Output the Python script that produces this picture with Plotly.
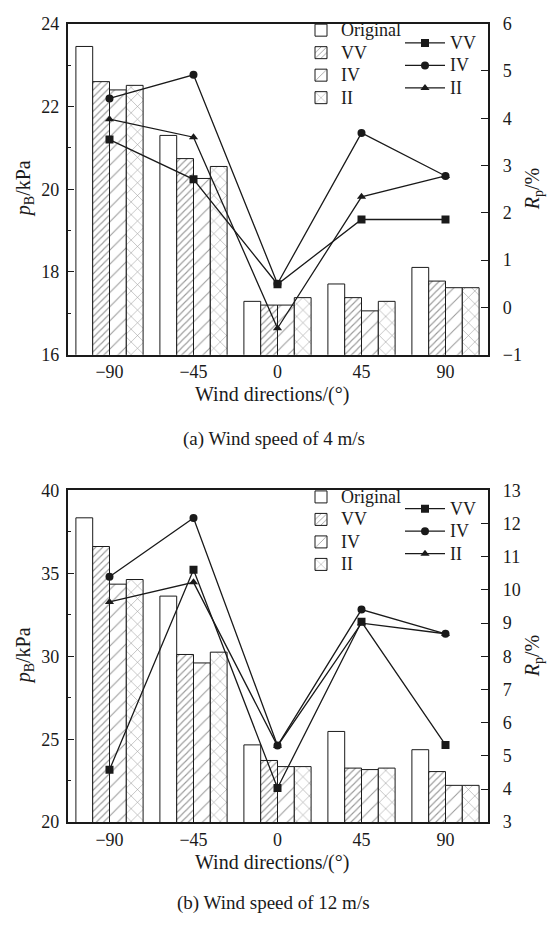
import plotly.graph_objects as go

# ---------------- data ----------------
directions = ["−90", "−45", "0", "45", "90"]
bar_names = ["Original", "VV", "IV", "II"]
line_names = ["VV", "IV", "II"]

# (a) wind speed 4 m/s : p_B (kPa)
pb4_original = [23.45, 21.30, 17.29, 17.71, 18.11]
pb4_vv = [22.60, 20.74, 17.20, 17.38, 17.78]
pb4_iv = [22.40, 20.26, 17.20, 17.06, 17.62]
pb4_ii = [22.51, 20.55, 17.38, 17.29, 17.62]
# (a) R_p (%)
rp4_vv = [3.55, 2.71, 0.49, 1.86, 1.86]
rp4_iv = [4.42, 4.92, 0.50, 3.69, 2.78]
rp4_ii = [3.98, 3.60, -0.44, 2.34, 2.78]

# (b) wind speed 12 m/s : p_B (kPa)
pb12_original = [38.35, 33.63, 24.66, 25.47, 24.37]
pb12_vv = [36.62, 30.11, 23.72, 23.26, 23.05]
pb12_iv = [34.35, 29.60, 23.35, 23.17, 22.22]
pb12_ii = [34.63, 30.25, 23.35, 23.26, 22.22]
# (b) R_p (%)
rp12_vv = [4.58, 10.61, 4.03, 9.04, 5.33]
rp12_iv = [10.40, 12.17, 5.31, 9.41, 8.68]
rp12_ii = [9.64, 10.23, 5.30, 9.00, 8.68]

x_title = "Wind directions/(°)"
captions = ["(a) Wind speed of 4 m/s", "(b) Wind speed of 12 m/s"]

# ---------------- styling ----------------
W, H = 547, 931
FONT = "Liberation Serif"
INK = "#1a1a1a"

def px_x(p):
    return p / W

def px_y(p):
    return 1 - p / H

def leg_label(s):
    return '<span style="font-size:18px">%s</span>' % s

patterns = [
    dict(shape=""),
    dict(shape="/", size=5, solidity=0.22, fgcolor="#333", bgcolor="white"),
    dict(shape="/", size=10, solidity=0.10, fgcolor="#333", bgcolor="white"),
    dict(shape="x", size=9, solidity=0.12, fgcolor="#333", bgcolor="white"),
]
symbols = ["square", "circle", "triangle-up"]

fig = go.Figure()

panels = [
    dict(bars=[pb4_original, pb4_vv, pb4_iv, pb4_ii], lines=[rp4_vv, rp4_iv, rp4_ii],
         x="x", y="y", y2="y2", legb="legend", legl="legend2"),
    dict(bars=[pb12_original, pb12_vv, pb12_iv, pb12_ii], lines=[rp12_vv, rp12_iv, rp12_ii],
         x="x2", y="y3", y2="y4", legb="legend3", legl="legend4"),
]

for p in panels:
    for name, vals, pat in zip(bar_names, p["bars"], patterns):
        fig.add_trace(go.Bar(
            x=directions, y=vals, name=leg_label(name), xaxis=p["x"], yaxis=p["y"],
            marker=dict(color="white", line=dict(color=INK, width=1), pattern=pat),
            legend=p["legb"],
        ))
    for name, vals, sym in zip(line_names, p["lines"], symbols):
        fig.add_trace(go.Scatter(
            x=directions, y=vals, name=leg_label(name), xaxis=p["x"], yaxis=p["y2"],
            mode="lines+markers",
            line=dict(color=INK, width=1.3),
            marker=dict(symbol=sym, size=8, color=INK),
            legend=p["legl"],
        ))

xdom = [px_x(67.5), px_x(487.5)]
top_dom = [px_y(352.3), px_y(14)]
bot_dom = [px_y(830), px_y(491)]

axis_font = dict(family=FONT, size=18, color=INK)
common_x = dict(type="category", showline=True, linewidth=1.5, linecolor=INK, mirror=True,
                ticks="", tickfont=axis_font, showgrid=False, zeroline=False,
                range=[-0.5, 4.5], ticklabelstandoff=0)

def left_y(rng, dtick, minor):
    return dict(range=rng, dtick=dtick, showline=True, linewidth=1.5, linecolor=INK,
                ticks="inside", ticklen=7, tickwidth=1.2, tickcolor=INK,
                minor=dict(dtick=minor, ticks="inside", ticklen=4, tickwidth=1.2, tickcolor=INK),
                tickfont=axis_font, showgrid=False, zeroline=False, ticklabelstandoff=3)

def right_y(rng, dtick):
    return dict(range=rng, dtick=dtick, showline=True, linewidth=1.5, linecolor=INK,
                ticks="inside", ticklen=7, tickwidth=1.2, tickcolor=INK, side="right",
                tickfont=axis_font, showgrid=False, zeroline=False, ticklabelstandoff=10)

leg_common = dict(font=dict(family=FONT, size=15, color=INK), bgcolor="rgba(0,0,0,0)",
                  xanchor="left", yanchor="top", tracegroupgap=0)

fig.update_layout(
    width=W, height=H,
    margin=dict(l=0, r=0, t=0, b=0),
    paper_bgcolor="white", plot_bgcolor="white",
    barmode="group", bargap=0.2, bargroupgap=0,
    font=dict(family=FONT, size=18, color=INK),
    xaxis=dict(common_x, domain=xdom, anchor="y"),
    yaxis=dict(left_y([16, 24], 2, 1), domain=top_dom, anchor="x"),
    yaxis2=dict(right_y([-1, 6], 1), overlaying="y", anchor="x"),
    xaxis2=dict(common_x, domain=xdom, anchor="y3"),
    yaxis3=dict(left_y([20, 40], 5, 2.5), domain=bot_dom, anchor="x2"),
    yaxis4=dict(right_y([3, 13], 1), overlaying="y3", anchor="x2"),
    legend=dict(leg_common, x=px_x(301), y=px_y(4)),
    legend2=dict(leg_common, x=px_x(400), y=px_y(17), itemwidth=40),
    legend3=dict(leg_common, x=px_x(301), y=px_y(481)),
    legend4=dict(leg_common, x=px_x(400), y=px_y(493), itemwidth=40),
)

ann = []
for (dom, xt_y) in [(top_dom, 393), (bot_dom, 871)]:
    mid = (dom[0] + dom[1]) / 2
    ann.append(dict(text=x_title, x=px_x(272), y=px_y(xt_y), xref="paper", yref="paper",
                    xanchor="center", yanchor="middle",
                    showarrow=False, font=dict(family=FONT, size=20, color=INK)))
    ann.append(dict(text="<i>p</i><sub>B</sub>/kPa", x=px_x(24), y=mid, xref="paper", yref="paper",
                    xanchor="center", yanchor="middle",
                    showarrow=False, textangle=-90, font=dict(family=FONT, size=20, color=INK)))
    ann.append(dict(text="<i>R</i><sub>p</sub>/%", x=px_x(533), y=mid, xref="paper", yref="paper",
                    xanchor="center", yanchor="middle",
                    showarrow=False, textangle=-90, font=dict(family=FONT, size=20, color=INK)))
for cap, cy in zip(captions, [438, 913]):
    ann.append(dict(text=cap, x=0.5, y=px_y(cy), xref="paper", yref="paper",
                    xanchor="center", yanchor="middle",
                    showarrow=False, font=dict(family=FONT, size=19, color=INK)))
fig.update_layout(annotations=ann)

fig.write_html("out.html")
